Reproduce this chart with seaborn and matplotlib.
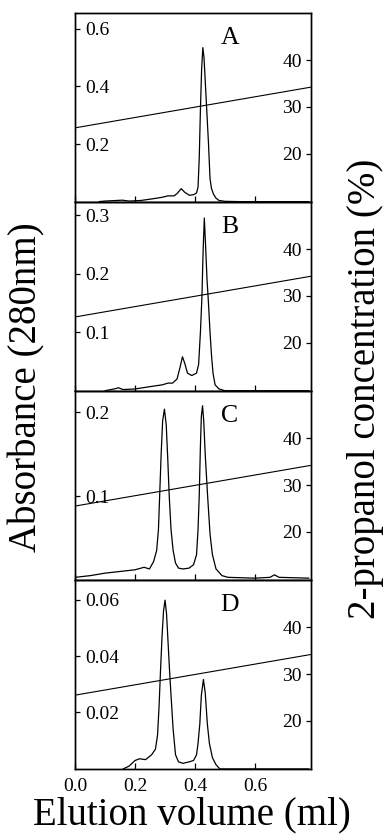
import matplotlib
matplotlib.use("Agg")
import matplotlib.pyplot as plt
import seaborn as sns
import pandas as pd

# ---------------- data ----------------
panel_labels = ["A", "B", "C", "D"]

a_x = [0.08, 0.10, 0.14, 0.157, 0.18, 0.22, 0.26, 0.29, 0.31, 0.33, 0.34, 0.354, 0.365, 0.381, 0.395,
       0.405, 0.410, 0.414, 0.418, 0.422, 0.426, 0.430, 0.435, 0.440, 0.445, 0.450, 0.455, 0.462,
       0.470, 0.480, 0.500, 0.550, 0.780]
a_y = [0.0, 0.002, 0.004, 0.005, 0.002, 0.004, 0.010, 0.015, 0.020, 0.020, 0.028, 0.045, 0.033, 0.022, 0.024,
       0.030, 0.050, 0.15, 0.32, 0.46, 0.535, 0.50, 0.40, 0.30, 0.20, 0.08, 0.045, 0.025,
       0.012, 0.004, 0.001, 0.0, 0.0]

b_x = [0.10, 0.13, 0.145, 0.16, 0.20, 0.25, 0.29, 0.31, 0.325, 0.34, 0.350, 0.358, 0.365, 0.375, 0.389,
       0.405, 0.412, 0.418, 0.423, 0.427, 0.431, 0.435, 0.440, 0.445, 0.450, 0.455, 0.460, 0.467,
       0.480, 0.500, 0.780]
b_y = [0.0, 0.003, 0.005, 0.002, 0.003, 0.007, 0.010, 0.013, 0.013, 0.020, 0.040, 0.058, 0.048, 0.030, 0.026,
       0.030, 0.045, 0.10, 0.16, 0.24, 0.295, 0.25, 0.19, 0.148, 0.10, 0.06, 0.03, 0.01,
       0.003, 0.0, 0.0]

c_x = [0.00, 0.05, 0.10, 0.15, 0.20, 0.23, 0.248, 0.262, 0.272, 0.278, 0.282, 0.287, 0.292, 0.298, 0.304,
       0.309, 0.314, 0.320, 0.327, 0.335, 0.345, 0.36, 0.38, 0.395, 0.405, 0.410, 0.414, 0.418, 0.421,
       0.425, 0.429, 0.434, 0.442, 0.450, 0.458, 0.470, 0.49, 0.51, 0.60, 0.65, 0.665, 0.68, 0.78]
c_y = [0.003, 0.005, 0.008, 0.010, 0.012, 0.015, 0.013, 0.022, 0.035, 0.06, 0.10, 0.15, 0.19, 0.204, 0.185,
       0.145, 0.10, 0.06, 0.035, 0.02, 0.014, 0.013, 0.014, 0.018, 0.03, 0.06, 0.10, 0.16, 0.195,
       0.208, 0.19, 0.15, 0.10, 0.055, 0.03, 0.013, 0.005, 0.003, 0.002, 0.003, 0.006, 0.003, 0.002]

d_x = [0.16, 0.18, 0.20, 0.215, 0.235, 0.255, 0.268, 0.275, 0.280, 0.285, 0.290, 0.295, 0.300, 0.305,
       0.310, 0.315, 0.320, 0.327, 0.335, 0.345, 0.36, 0.38, 0.395, 0.405, 0.410, 0.416, 0.421, 0.428,
       0.434, 0.441, 0.448, 0.458, 0.470, 0.483, 0.78]
d_y = [0.0, 0.001, 0.003, 0.0036, 0.0033, 0.005, 0.007, 0.012, 0.022, 0.035, 0.047, 0.056, 0.0598, 0.055,
       0.045, 0.035, 0.026, 0.014, 0.005, 0.0025, 0.002, 0.0025, 0.003, 0.005, 0.009, 0.016, 0.026, 0.0317,
       0.027, 0.016, 0.009, 0.004, 0.0015, 0.0, 0.0]

curves_x = [a_x, b_x, c_x, d_x]
curves_y = [a_y, b_y, c_y, d_y]

gradient_x = [0.0, 0.785]
gradient_y = [25.5, 34.2]

abs_ylims = [(0, 0.657), (0, 0.323), (0, 0.226), (0, 0.067)]
abs_ticks = [[0.2, 0.4, 0.6], [0.1, 0.2, 0.3], [0.1, 0.2], [0.02, 0.04, 0.06]]
abs_ticklabels = [["0.2", "0.4", "0.6"], ["0.1", "0.2", "0.3"], ["0.1", "0.2"], ["0.02", "0.04", "0.06"]]
conc_ticks = [20, 30, 40]
x_ticks = [0.0, 0.2, 0.4, 0.6]
x_ticklabels = ["0.0", "0.2", "0.4", "0.6"]

# ---------------- plotting ----------------
sns.set_theme(style="ticks")
plt.rcParams["font.family"] = ["Liberation Serif", "DejaVu Serif"]
plt.rcParams["text.color"] = "black"
plt.rcParams["axes.labelcolor"] = "black"
plt.rcParams["xtick.color"] = "black"
plt.rcParams["ytick.color"] = "black"
plt.rcParams["axes.edgecolor"] = "black"

fig, axes = plt.subplots(4, 1, figsize=(3.85, 8.34), dpi=100, sharex=True)
fig.subplots_adjust(left=0.195, right=0.808, top=0.985, bottom=0.078, hspace=0)

tick_fs = 14
for i, ax in enumerate(axes):
    df = pd.DataFrame({"x": curves_x[i], "y": curves_y[i]})
    sns.lineplot(data=df, x="x", y="y", ax=ax, color="black", lw=0.9, estimator=None, sort=False)
    ax.set_xlim(0, 0.787)
    ax.set_ylim(*abs_ylims[i])
    ax.set_yticks(abs_ticks[i])
    ax.set_yticklabels(abs_ticklabels[i])
    ax.set_xticks(x_ticks)
    ax.set_xlabel("")
    ax.set_ylabel("")
    ax.tick_params(axis="y", direction="in", length=3.5, width=0.9, pad=-7.2, labelsize=tick_fs)
    ax.tick_params(axis="x", direction="in", length=4, width=0.9, pad=6.5, labelsize=tick_fs,
                   labelbottom=(i == 3))
    for lab in ax.get_yticklabels():
        lab.set_horizontalalignment("left")
    for s in ax.spines.values():
        s.set_linewidth(1.0)
        s.set_color("black")

    ax2 = ax.twinx()
    gdf = pd.DataFrame({"x": gradient_x, "y": gradient_y})
    sns.lineplot(data=gdf, x="x", y="y", ax=ax2, color="black", lw=0.8, estimator=None)
    ax2.set_ylim(9.7, 50.2)
    ax2.set_yticks(conc_ticks)
    ax2.set_yticklabels([str(t) for t in conc_ticks])
    ax2.set_ylabel("")
    ax2.tick_params(axis="y", direction="in", length=3.5, width=0.9, pad=-6.5, labelsize=tick_fs)
    for lab in ax2.get_yticklabels():
        lab.set_horizontalalignment("right")
    for s in ax2.spines.values():
        s.set_linewidth(1.0)
        s.set_color("black")

    ax.text(0.655, 0.865, panel_labels[i], transform=ax.transAxes, fontsize=18.5,
            ha="center", va="center", color="black")

axes[3].set_xticklabels(x_ticklabels)

label_fs = 28
fig.text(27 / 385, 1 - 387 / 834, "Absorbance (280nm)", rotation=90, ha="center", va="center",
         fontsize=label_fs)
fig.text(365 / 385, 1 - 389 / 834, "2-propanol concentration (%)", rotation=90, ha="center",
         va="center", fontsize=label_fs)
fig.text(192 / 385, 1 - 815 / 834, "Elution volume (ml)", ha="center", va="center", fontsize=label_fs)

fig.savefig("out.png", dpi=100)
